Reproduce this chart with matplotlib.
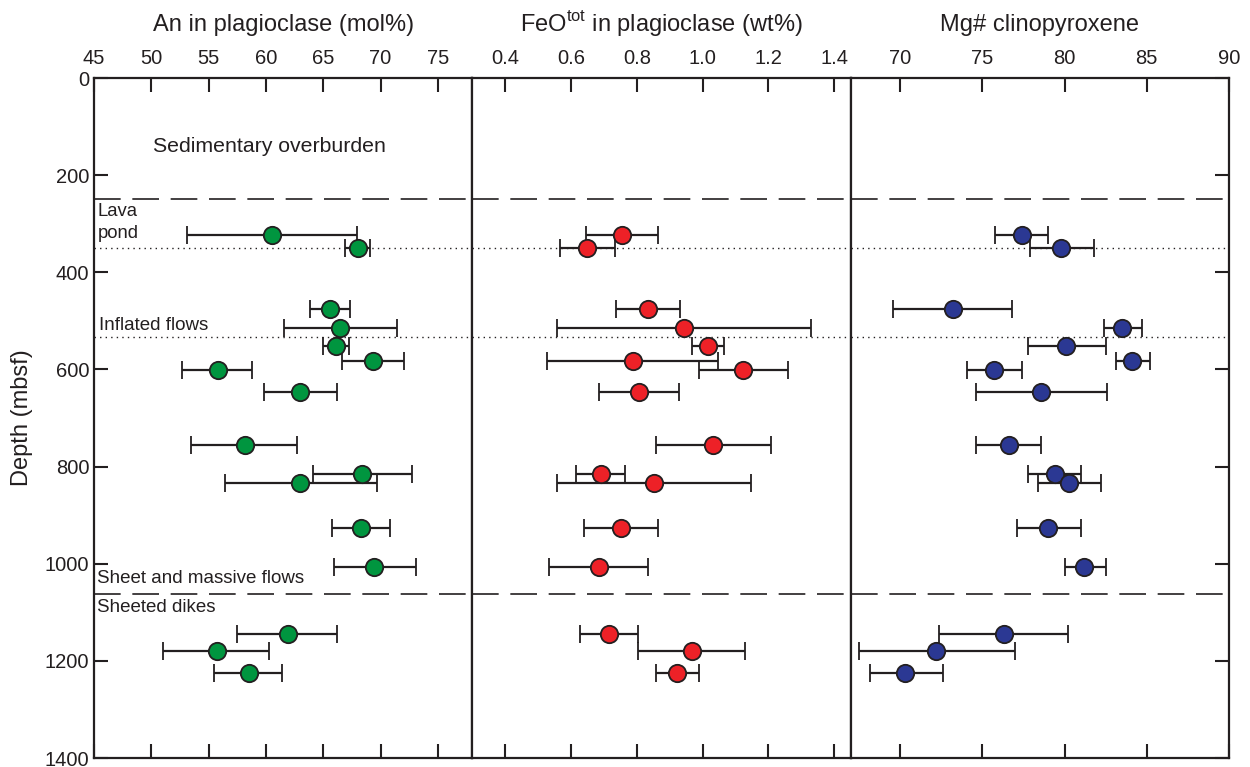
import numpy as np
import matplotlib.pyplot as plt

plt.rcParams['font.family'] = ['Liberation Sans', 'DejaVu Sans']

# sample depths (mbsf), shared by the three panels
depth = [323, 351, 476, 514, 552, 583, 601, 647, 756, 815, 833, 927, 1007, 1145, 1180, 1224]

# An content of plagioclase (mol%): mean, min, max
an_mean = [60.5, 68.0, 65.6, 66.5, 66.1, 69.3, 55.8, 63.0, 58.2, 68.4, 63.0, 68.3, 69.4, 61.9, 55.7, 58.5]
an_low = [53.1, 66.9, 63.8, 61.6, 65.0, 66.6, 52.7, 59.8, 53.5, 64.1, 56.4, 65.8, 65.9, 57.5, 51.0, 55.5]
an_high = [67.9, 69.1, 67.3, 71.4, 67.2, 72.0, 58.8, 66.2, 62.7, 72.7, 69.7, 70.8, 73.1, 66.2, 60.3, 61.4]

# FeO total in plagioclase (wt%)
feo_mean = [0.754, 0.649, 0.834, 0.943, 1.016, 0.787, 1.122, 0.806, 1.031, 0.690, 0.851, 0.752, 0.684, 0.716, 0.968, 0.923]
feo_low = [0.645, 0.565, 0.736, 0.557, 0.968, 0.528, 0.988, 0.684, 0.857, 0.614, 0.557, 0.638, 0.532, 0.627, 0.804, 0.858]
feo_high = [0.864, 0.733, 0.931, 1.330, 1.064, 1.046, 1.259, 0.927, 1.208, 0.764, 1.148, 0.864, 0.835, 0.804, 1.130, 0.988]

# Mg# of clinopyroxene
mg_mean = [77.4, 79.8, 73.2, 83.5, 80.1, 84.1, 75.7, 78.6, 76.6, 79.4, 80.3, 79.0, 81.2, 76.3, 72.2, 70.3]
mg_low = [75.8, 77.9, 69.6, 82.4, 77.8, 83.1, 74.1, 74.6, 74.6, 77.8, 78.4, 77.1, 80.0, 72.4, 67.5, 68.2]
mg_high = [79.0, 81.8, 76.8, 84.7, 82.5, 85.2, 77.4, 82.6, 78.6, 81.0, 82.2, 81.0, 82.5, 80.2, 77.0, 72.6]

titles = ['An in plagioclase (mol%)', r'FeO$^{\mathregular{tot}}$ in plagioclase (wt%)', 'Mg# clinopyroxene']
xlims = [(45, 78), (0.3, 1.45), (67, 90)]
xticks = [[45, 50, 55, 60, 65, 70, 75],
          [0.4, 0.6, 0.8, 1.0, 1.2, 1.4],
          [70, 75, 80, 85, 90]]
xticklabels = [['45', '50', '55', '60', '65', '70', '75'],
               ['0.4', '0.6', '0.8', '1.0', '1.2', '1.4'],
               ['70', '75', '80', '85', '90']]
colors = ['#00953f', '#ed2127', '#2b3893']
series = [(an_mean, an_low, an_high), (feo_mean, feo_low, feo_high), (mg_mean, mg_low, mg_high)]

# unit boundaries
dashed = [250, 1062]
dotted = [350, 533]

fig = plt.figure(figsize=(12.5, 7.67), dpi=100)
left, bottom, height = 0.0752, 0.0117, 0.8866
width = (0.9832 - left) / 3
axes = [fig.add_axes([left + i * width, bottom, width, height]) for i in range(3)]

for i, ax in enumerate(axes):
    m, lo, hi = (np.array(a) for a in series[i])
    ax.errorbar(m, depth, xerr=[m - lo, hi - m], fmt='o', color='#231f20',
                ecolor='#231f20', elinewidth=1.6, capsize=6.5, capthick=1.6,
                markersize=12.5, markerfacecolor=colors[i],
                markeredgecolor='#231f20', markeredgewidth=1.3, zorder=3)
    for d in dashed:
        ax.axhline(d, color='#231f20', lw=1.2, dashes=(16, 7), zorder=1)
    for d in dotted:
        ax.axhline(d, color='#231f20', lw=1.0, dashes=(1, 3), zorder=1)

    ax.set_xlim(*xlims[i])
    ax.set_ylim(1400, 0)
    ax.set_xticks(xticks[i])
    ax.set_xticklabels(xticklabels[i])
    ax.tick_params(axis='x', top=True, bottom=True, labeltop=True, labelbottom=False,
                   direction='in', length=10, width=1.5, labelsize=14.5, pad=7,
                   color='#231f20', labelcolor='#231f20')
    ax.set_title(titles[i], fontsize=17, pad=34, color='#231f20')
    for s in ax.spines.values():
        s.set_linewidth(1.6)
        s.set_color('#231f20')
    ax.set_yticks(range(0, 1401, 200))
    ax.tick_params(axis='y', direction='in', length=10, width=1.5, labelsize=14.5,
                   color='#231f20', labelcolor='#231f20')

axes[0].tick_params(axis='y', left=True, right=False, labelleft=True)
axes[0].set_ylabel('Depth (mbsf)', fontsize=17, color='#231f20', labelpad=8)
axes[1].tick_params(axis='y', left=False, right=False, labelleft=False)
axes[2].tick_params(axis='y', left=False, right=True, labelleft=False, labelright=False)

ax = axes[0]
ax.text(60.3, 140, 'Sedimentary overburden', fontsize=15.3, ha='center', va='center', color='#231f20')
ax.text(45.3, 274, 'Lava', fontsize=13.3, ha='left', va='center', color='#231f20')
ax.text(45.3, 321, 'pond', fontsize=13.3, ha='left', va='center', color='#231f20')
ax.text(45.4, 510, 'Inflated flows', fontsize=13.5, ha='left', va='center', color='#231f20')
ax.text(45.3, 1030, 'Sheet and massive flows', fontsize=13.5, ha='left', va='center', color='#231f20')
ax.text(45.3, 1090, 'Sheeted dikes', fontsize=13.5, ha='left', va='center', color='#231f20')

fig.savefig('out.png', dpi=100)
